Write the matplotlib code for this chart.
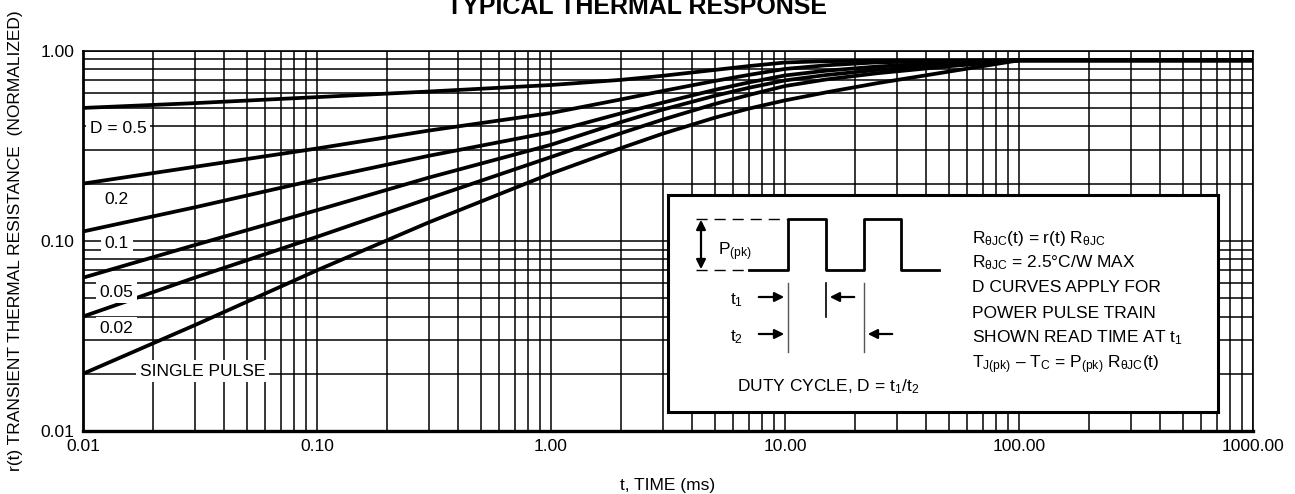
#!/usr/bin/env python3
# -*- coding: utf-8 -*-
"""
Typical thermal response chart, r(t) vs pulse time on log-log axes.
"""

import matplotlib
matplotlib.use('Agg')
import matplotlib.pyplot as plt

FONT = ['Liberation Sans Narrow', 'Liberation Sans', 'DejaVu Sans']
plt.rcParams['font.family'] = FONT
plt.rcParams['mathtext.fontset'] = 'custom'
plt.rcParams['mathtext.rm'] = 'Liberation Sans'
plt.rcParams['mathtext.it'] = 'Liberation Sans'
plt.rcParams['mathtext.bf'] = 'Liberation Sans:bold'

# time in ms
t_ms = [0.01, 0.03, 0.1, 0.3, 1.0, 2.0, 3.0, 5.0, 7.0, 10.0, 15.0, 25.0, 50.0, 100.0, 1000.0]
r_d05 = [0.50, 0.53, 0.57, 0.61, 0.66, 0.703, 0.738, 0.792, 0.830, 0.867, 0.881, 0.886, 0.888, 0.89, 0.89]
r_d02 = [0.20, 0.245, 0.306, 0.38, 0.47, 0.555, 0.614, 0.693, 0.746, 0.802, 0.838, 0.869, 0.881, 0.89, 0.89]
r_d01 = [0.112, 0.15, 0.21, 0.28, 0.373, 0.469, 0.533, 0.622, 0.681, 0.741, 0.785, 0.826, 0.867, 0.89, 0.89]
r_d005 = [0.064, 0.095, 0.145, 0.215, 0.32, 0.422, 0.490, 0.579, 0.638, 0.698, 0.745, 0.793, 0.843, 0.89, 0.89]
r_d002 = [0.040, 0.064, 0.105, 0.167, 0.276, 0.369, 0.434, 0.524, 0.585, 0.652, 0.706, 0.762, 0.828, 0.89, 0.89]
r_single = [0.020, 0.036, 0.070, 0.125, 0.226, 0.308, 0.366, 0.444, 0.496, 0.548, 0.604, 0.676, 0.776, 0.89, 0.89]
curves = [r_d05, r_d02, r_d01, r_d005, r_d002, r_single]

curve_labels = ['D = 0.5', '0.2', '0.1', '0.05', '0.02', 'SINGLE PULSE']
label_x = [0.0107, 0.0124, 0.0124, 0.0118, 0.0118, 0.0175]
label_y = [0.392, 0.164, 0.0973, 0.0537, 0.0347, 0.0206]

x_ticks = [0.01, 0.1, 1, 10, 100, 1000]
x_ticklabels = ['0.01', '0.10', '1.00', '10.00', '100.00', '1000.00']
y_ticks = [0.01, 0.1, 1]
y_ticklabels = ['0.01', '0.10', '1.00']

notes = [r'R$_{\theta\mathrm{JC}}$(t) = r(t) R$_{\theta\mathrm{JC}}$',
         r'R$_{\theta\mathrm{JC}}$ = 2.5°C/W MAX',
         'D CURVES APPLY FOR',
         'POWER PULSE TRAIN',
         r'SHOWN READ TIME AT t$_1$',
         r'T$_{\mathrm{J(pk)}}$ – T$_{\mathrm{C}}$ = P$_{\mathrm{(pk)}}$ R$_{\theta\mathrm{JC}}$(t)']


def main():
    fig = plt.figure(figsize=(12.95, 4.94), dpi=100)
    ax = fig.add_axes([83 / 1295, 1 - 431 / 494, 1170 / 1295, 380.3 / 494])

    for r in curves:
        ax.plot(t_ms, r, color='black', lw=2.7, solid_capstyle='butt', zorder=3)

    ax.set_xscale('log')
    ax.set_yscale('log')
    ax.set_xlim(0.01, 1000)
    ax.set_ylim(0.01, 1)
    ax.grid(True, which='both', color='black', lw=1.1, zorder=1)
    ax.set_axisbelow(True)
    ax.set_xticks(x_ticks)
    ax.set_xticklabels(x_ticklabels)
    ax.set_yticks(y_ticks)
    ax.set_yticklabels(y_ticklabels)
    ax.tick_params(which='both', length=0, labelsize=12.5, pad=6)
    for s in ax.spines.values():
        s.set_linewidth(1.2)
    ax.spines['bottom'].set_linewidth(2.4)
    ax.spines['left'].set_linewidth(2.0)

    ax.set_xlabel('t, TIME (ms)', fontsize=12.5, labelpad=17)
    ax.set_ylabel('r(t) TRANSIENT THERMAL RESISTANCE  (NORMALIZED)', fontsize=12.5, labelpad=13)

    for txt, lx, ly in zip(curve_labels, label_x, label_y):
        ax.text(lx, ly, txt, fontsize=12.5, va='center', ha='left', zorder=4,
                bbox=dict(facecolor='white', edgecolor='none', pad=2.5))

    fig.text(637 / 1295, 1 - 14 / 494, 'TYPICAL THERMAL RESPONSE', ha='center', va='baseline',
             fontsize=18, fontweight='bold')

    # inset box, coordinates in pixels from its top-left corner
    ins = fig.add_axes([668 / 1295, 1 - 412 / 494, 550 / 1295, 217 / 494], zorder=5)
    ins.set_xlim(0, 550)
    ins.set_ylim(217, 0)
    ins.set_xticks([])
    ins.set_yticks([])
    ins.set_facecolor('white')
    for s in ins.spines.values():
        s.set_linewidth(2.2)

    wave_x = [81, 120, 120, 158, 158, 196, 196, 233, 233, 271]
    wave_y = [75, 75, 24, 24, 75, 75, 24, 24, 75, 75]
    ins.plot(wave_x, wave_y, color='black', lw=2.0)
    ins.plot([28, 120], [24, 24], color='black', lw=1.0, dashes=(8, 5))
    ins.plot([28, 81], [75, 75], color='black', lw=1.0, dashes=(8, 5))
    ins.annotate('', xy=(33, 22), xytext=(33, 77),
                 arrowprops=dict(arrowstyle='<|-|>', color='black', lw=1.6, mutation_scale=14))
    ins.text(50, 57, r'P$_{\mathrm{(pk)}}$', fontsize=12.5, va='center', ha='left')

    ins.plot([120, 120], [88, 157], color='#555555', lw=1.0)
    ins.plot([158, 158], [88, 122], color='black', lw=1.2)
    ins.plot([196, 196], [88, 157], color='#555555', lw=1.0)

    arrow = dict(arrowstyle='-|>', color='black', lw=1.6, mutation_scale=14)
    ins.annotate('', xy=(119, 102), xytext=(88, 102), arrowprops=arrow)
    ins.annotate('', xy=(159, 102), xytext=(189, 102), arrowprops=arrow)
    ins.annotate('', xy=(119, 139), xytext=(88, 139), arrowprops=arrow)
    ins.annotate('', xy=(197, 139), xytext=(227, 139), arrowprops=arrow)
    ins.text(62, 105, r't$_1$', fontsize=12.5, va='center', ha='left')
    ins.text(62, 142, r't$_2$', fontsize=12.5, va='center', ha='left')

    note_y = [43, 68, 93, 118, 143, 170]
    for txt, ny in zip(notes, note_y):
        ins.text(304, ny, txt, fontsize=12.5, va='center', ha='left')
    ins.text(69, 192, r'DUTY CYCLE, D = t$_1$/t$_2$', fontsize=12.5, va='center', ha='left')

    fig.savefig('out.png', dpi=100)


if __name__ == '__main__':
    main()
